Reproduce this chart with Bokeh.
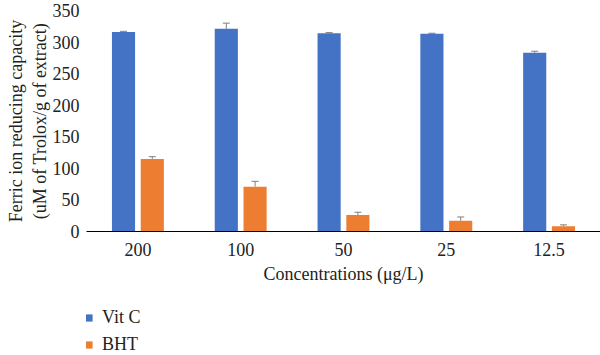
from bokeh.plotting import figure
from bokeh.layouts import column
from bokeh.models import ColumnDataSource, FactorRange, Whisker, TeeHead, Legend, LegendItem, SingleIntervalTicker, Range1d
from bokeh.transform import dodge
from bokeh.embed import file_html
from bokeh.resources import INLINE

categories = ["200", "100", "50", "25", "12.5"]
vitc = [316, 321, 314, 313, 283]
vitc_err = [1, 9, 1, 1, 2.5]
bht = [115, 71, 26, 17, 8.5]
bht_err = [3.5, 8.5, 4.5, 6, 2]
series_names = ["Vit C", "BHT"]

FONT = "Liberation Serif"
FS = "18px"
BLUE = "#4472C4"
ORANGE = "#ED7D31"
GRAY = "#7F7F7F"
TXT = "#222222"

src = ColumnDataSource(dict(
    cat=categories,
    vitc=vitc,
    vitc_hi=[v + e for v, e in zip(vitc, vitc_err)],
    bht=bht,
    bht_hi=[v + e for v, e in zip(bht, bht_err)],
))

p = figure(x_range=FactorRange(*categories, range_padding=0), y_range=(0, 350),
           width=600, height=290, output_backend="svg", toolbar_location=None,
           min_border_left=86, min_border_right=0, min_border_top=10, min_border_bottom=59)
p.outline_line_color = None
p.xgrid.grid_line_color = None
p.ygrid.grid_line_color = None

p.vbar(x=dodge("cat", -0.14, range=p.x_range), top="vitc", width=0.225, source=src,
       fill_color=BLUE, line_color=None)
p.vbar(x=dodge("cat", 0.14, range=p.x_range), top="bht", width=0.225, source=src,
       fill_color=ORANGE, line_color=None)

for off, lo, hi in [(-0.14, "vitc", "vitc_hi"), (0.14, "bht", "bht_hi")]:
    w = Whisker(base=dodge("cat", off, range=p.x_range), lower=lo, upper=hi, source=src,
                line_color=GRAY, line_width=1,
                upper_head=TeeHead(size=7, line_color=GRAY, line_width=1), lower_head=None)
    p.add_layout(w)

p.yaxis.ticker = SingleIntervalTicker(interval=50)
p.yaxis.axis_line_color = None
p.yaxis.major_tick_line_color = None
p.yaxis.minor_tick_line_color = None
p.yaxis.major_tick_out = 0
p.yaxis.major_tick_in = 0
p.yaxis.minor_tick_out = 0
p.yaxis.major_label_standoff = 7
p.yaxis.major_label_text_font = FONT
p.yaxis.major_label_text_font_size = FS
p.yaxis.major_label_text_color = TXT
p.yaxis.axis_label = "Ferric ion reducing capacity\n(uM of Trolox/g of extract)"
p.yaxis.axis_label_text_font = FONT
p.yaxis.axis_label_text_font_size = FS
p.yaxis.axis_label_text_font_style = "normal"
p.yaxis.axis_label_text_color = TXT
p.yaxis.axis_label_standoff = 0

p.xaxis.axis_line_color = "#000000"
p.xaxis.axis_line_width = 1
p.xaxis.major_tick_line_color = None
p.xaxis.minor_tick_line_color = None
p.xaxis.major_tick_out = 0
p.xaxis.major_tick_in = 0
p.xaxis.minor_tick_out = 0
p.xaxis.major_label_standoff = 11
p.xaxis.major_label_text_font = FONT
p.xaxis.major_label_text_font_size = FS
p.xaxis.major_label_text_color = TXT
p.xaxis.axis_label = "Concentrations (μg/L)"
p.xaxis.axis_label_text_font = FONT
p.xaxis.axis_label_text_font_size = FS
p.xaxis.axis_label_text_font_style = "normal"
p.xaxis.axis_label_text_color = TXT
p.xaxis.axis_label_standoff = 5

# legend strip below the chart
p2 = figure(width=600, height=65, output_backend="svg", toolbar_location=None,
            x_range=Range1d(0, 1), y_range=Range1d(0, 1), x_axis_type=None, y_axis_type=None,
            min_border=0, min_border_left=0, min_border_right=0, min_border_top=0, min_border_bottom=0)
p2.outline_line_color = None
p2.xgrid.grid_line_color = None
p2.ygrid.grid_line_color = None
# zero-height keys: they draw nothing in the strip, only lend their colours to the legend swatches
lr1 = p2.vbar(x=[0.5], top=[0], width=0.01, fill_color=BLUE, line_color=None)
lr2 = p2.vbar(x=[0.5], top=[0], width=0.01, fill_color=ORANGE, line_color=None)
legend = Legend(items=[LegendItem(label=series_names[0], renderers=[lr1]),
                       LegendItem(label=series_names[1], renderers=[lr2])],
                location=(-2, 0), orientation="vertical",
                glyph_width=9, glyph_height=9, label_height=16, spacing=6,
                padding=0, margin=0, label_standoff=9,
                label_text_font=FONT, label_text_font_size=FS, label_text_color=TXT,
                border_line_color=None, background_fill_color=None)
p2.add_layout(legend)

layout = column(p, p2, spacing=0)
open("out.html", "w").write(file_html(layout, INLINE))
